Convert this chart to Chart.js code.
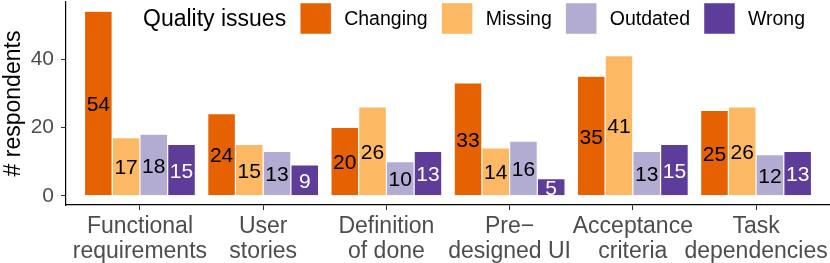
<!DOCTYPE html>
<html>
<head>
<meta charset="utf-8">
<script src="https://cdn.jsdelivr.net/npm/chart.js@4/dist/chart.umd.min.js"></script>
<style>
  html, body { margin: 0; padding: 0; background: #fff; }
  #wrap { position: relative; width: 830px; height: 263px; }
</style>
</head>
<body>
<div id="wrap"><canvas id="qualityChart" width="830" height="263"></canvas></div>
<script>
var categories = [
    ["Functional", "requirements"],
    ["User", "stories"],
    ["Definition", "of done"],
    ["Pre\u2212", "designed UI"],
    ["Acceptance", "criteria"],
    ["Task", "dependencies"]
];
var seriesNames = ["Changing", "Missing", "Outdated", "Wrong"];
var seriesColors = ["#E66101", "#FDB863", "#B2ABD2", "#5E3C99"];
var labelColors = ["#000000", "#000000", "#000000", "#FFFFFF"];
var changing = [54, 24, 20, 33, 35, 25];
var missing = [17, 15, 26, 14, 41, 26];
var outdated = [18, 13, 10, 16, 13, 12];
var wrong = [15, 9, 13, 5, 15, 13];
var yTicks = [0, 20, 40];
var legendTitle = "Quality issues";
var yTitle = "# respondents";

var fontFamily = "'Liberation Sans', Arial, Helvetica, sans-serif";
var seriesValues = [changing, missing, outdated, wrong];

var datasets = seriesNames.map(function(name, s) {
    return {
        label: name,
        data: seriesValues[s].map(function(v, i) { return { x: i + 1, y: v }; }),
        backgroundColor: seriesColors[s],
        borderColor: "rgba(255,255,255,0.8)",
        borderWidth: 0.6,
        categoryPercentage: 0.9,
        barPercentage: 1.0
    };
});

// value labels centred in each bar
var barLabels = {
    id: "barLabels",
    afterDatasetsDraw: function(chart) {
        var ctx = chart.ctx;
        ctx.save();
        ctx.font = "21px " + fontFamily;
        ctx.textAlign = "center";
        ctx.textBaseline = "middle";
        chart.data.datasets.forEach(function(ds, s) {
            var meta = chart.getDatasetMeta(s);
            ctx.fillStyle = labelColors[s];
            meta.data.forEach(function(bar, i) {
                ctx.fillText(String(seriesValues[s][i]), bar.x, (bar.y + bar.base) / 2 + 2);
            });
        });
        ctx.restore();
    }
};

// horizontal legend inside the plot, ggplot style
var insideLegend = {
    id: "insideLegend",
    afterDraw: function(chart) {
        var ctx = chart.ctx;
        var x = 143, top = 3, box = 31, cy = top + box / 2;
        ctx.save();
        ctx.textBaseline = "middle";
        ctx.textAlign = "left";
        ctx.fillStyle = "#000";
        ctx.font = "23px " + fontFamily;
        ctx.fillText(legendTitle, x, cy + 1);
        x += ctx.measureText(legendTitle).width + 14;
        ctx.font = "19.5px " + fontFamily;
        seriesNames.forEach(function(name, s) {
            ctx.fillStyle = seriesColors[s];
            ctx.fillRect(x, top, box, box);
            ctx.strokeStyle = "rgba(255,255,255,0.8)";
            ctx.lineWidth = 0.6;
            ctx.strokeRect(x, top, box, box);
            x += box + 13;
            ctx.fillStyle = "#000";
            ctx.fillText(name, x, cy + 1);
            x += ctx.measureText(name).width + 14;
        });
        ctx.restore();
    }
};

new Chart(document.getElementById("qualityChart"), {
    type: "bar",
    data: { datasets: datasets },
    plugins: [barLabels, insideLegend],
    options: {
        responsive: false,
        animation: false,
        devicePixelRatio: 1,
        layout: { padding: { top: 2, left: 0, right: 0, bottom: 0 } },
        plugins: { legend: { display: false }, tooltip: { enabled: false } },
        scales: {
            x: {
                type: "linear",
                min: 0.4,
                max: 6.6,
                offset: false,
                grid: { display: true, drawOnChartArea: false, drawTicks: true, tickLength: 5, color: "#333", offset: false },
                border: { display: true, color: "#000", width: 1.2 },
                afterBuildTicks: function(scale) {
                    scale.ticks = categories.map(function(c, i) { return { value: i + 1 }; });
                },
                afterFit: function(scale) {
                    scale.height = 58;
                    scale.paddingLeft = 0;
                    scale.paddingRight = 0;
                },
                ticks: {
                    autoSkip: false,
                    maxRotation: 0,
                    padding: 4,
                    color: "#4D4D4D",
                    font: { family: fontFamily, size: 23, lineHeight: 1.1 },
                    callback: function(v) { return categories[Math.round(v) - 1]; }
                }
            },
            y: {
                min: -2.7,
                max: 56.7,
                grid: { display: true, drawOnChartArea: false, drawTicks: true, tickLength: 5, color: "#333" },
                border: { display: true, color: "#000", width: 1.2 },
                afterBuildTicks: function(scale) {
                    scale.ticks = yTicks.map(function(v) { return { value: v }; });
                },
                afterFit: function(scale) {
                    scale.width = 66;
                    scale.paddingTop = 0;
                    scale.paddingBottom = 0;
                },
                title: {
                    display: true,
                    text: yTitle,
                    color: "#000",
                    padding: 0,
                    font: { family: fontFamily, size: 23 }
                },
                ticks: {
                    padding: 7,
                    color: "#4D4D4D",
                    font: { family: fontFamily, size: 21 }
                }
            }
        }
    }
});
</script>
</body>
</html>
